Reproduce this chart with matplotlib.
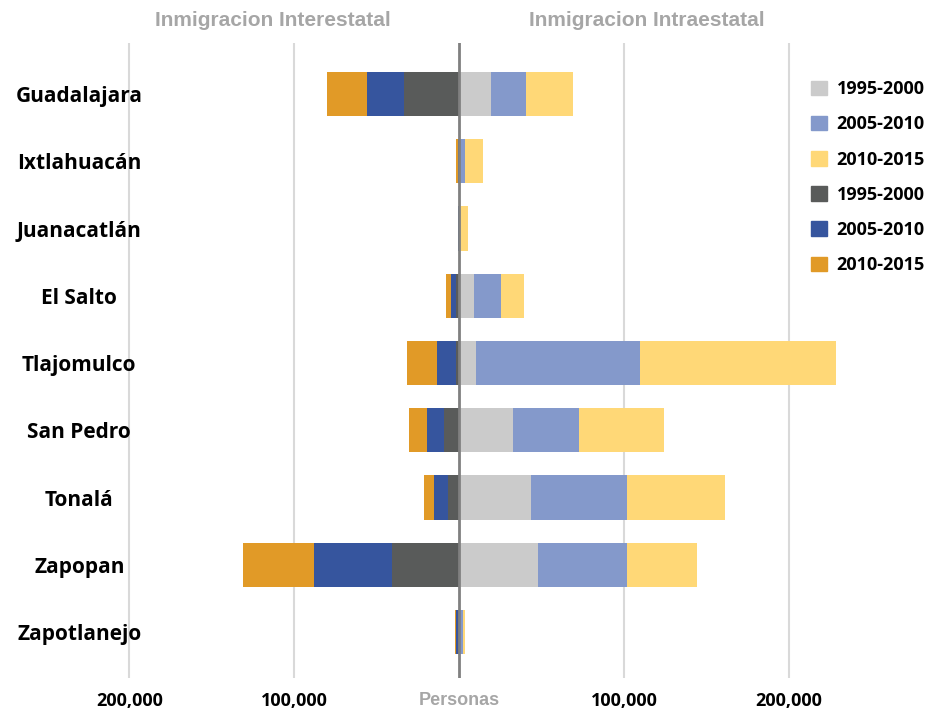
import numpy as np
import matplotlib.pyplot as plt
from matplotlib.patches import Patch

# municipios del area metropolitana
municipios = ['Guadalajara', 'Ixtlahuacán', 'Juanacatlán', 'El Salto', 'Tlajomulco',
              'San Pedro', 'Tonalá', 'Zapopan', 'Zapotlanejo']

# inmigracion intraestatal (lado derecho)
intra_1995 = [19400, 500, 200, 9100, 10500, 32700, 43600, 47900, 500]
intra_2005 = [21200, 2800, 300, 16400, 99200, 40000, 58200, 53900, 1800]
intra_2010 = [28500, 11300, 4800, 13700, 118800, 51500, 59400, 42400, 1300]

# inmigracion interestatal (lado izquierdo)
inter_1995 = [33300, 300, 200, 2200, 1800, 8900, 6500, 40400, 600]
inter_2005 = [22400, 300, 200, 2600, 11500, 10300, 8700, 47300, 1000]
inter_2010 = [24200, 1000, 300, 3200, 18600, 10900, 5900, 43600, 1000]

periodos = ['1995-2000', '2005-2010', '2010-2015']
tick_vals = [-200000, -100000, 0, 100000, 200000]
tick_labels = ['200,000', '100,000', 'Personas', '100,000', '200,000']

col_intra = ['#CBCBCB', '#8499CB', '#FFD877']
col_inter = ['#595B5A', '#36559E', '#E19A27']

plt.rcParams['font.family'] = ['Open Sans', 'DejaVu Sans']

fig = plt.figure(figsize=(9.39, 7.12), dpi=100)
ax = fig.add_axes([121/939, 1 - 678/712, (855 - 121)/939, (678 - 43)/712])

y = np.arange(len(municipios))
h = 0.66

##barras derecha
left = np.zeros(len(municipios))
for vals, c in zip([intra_1995, intra_2005, intra_2010], col_intra):
    ax.barh(y, vals, height=h, left=left, color=c, edgecolor='none', zorder=2)
    left = left + np.array(vals)

##barras izquierda (negativas)
left = np.zeros(len(municipios))
for vals, c in zip([inter_1995, inter_2005, inter_2010], col_inter):
    ax.barh(y, -np.array(vals), height=h, left=left, color=c, edgecolor='none', zorder=2)
    left = left - np.array(vals)

ax.set_xlim(-205000, 240000)
ax.set_ylim(8 + 0.683, -0.758)

# lineas guia
for v in [-200000, -100000, 100000, 200000]:
    ax.axvline(v, color='#D9D9D9', lw=1.5, zorder=1)
ax.axvline(0, color='#808080', lw=2, zorder=3)

for s in ax.spines.values():
    s.set_visible(False)

ax.set_xticks(tick_vals)
ax.set_xticklabels(tick_labels, fontsize=13, fontweight='bold')
lbl = ax.get_xticklabels()[2]
lbl.set_color('#A6A6A6')
lbl.set_family(['Liberation Sans', 'DejaVu Sans'])
ax.tick_params(axis='x', length=0, pad=10)

ax.set_yticks(y)
ax.set_yticklabels(municipios, fontsize=15, fontweight='bold', ha='center')
ax.tick_params(axis='y', length=0, pad=30)

# titulos de cada lado
fig.text(273/939, 1 - 20/712, 'Inmigracion Interestatal', ha='center', va='center',
         fontsize=15, fontweight='bold', color='#A6A6A6',
         family=['Liberation Sans', 'DejaVu Sans'])
fig.text(647/939, 1 - 20/712, 'Inmigracion Intraestatal', ha='center', va='center',
         fontsize=15, fontweight='bold', color='#A6A6A6',
         family=['Liberation Sans', 'DejaVu Sans'])

# leyenda
handles = [Patch(color=c) for c in col_intra + col_inter]
labels = periodos + periodos
fig.legend(handles, labels, loc='upper left', bbox_to_anchor=(795/939, 1 - 64/712),
           frameon=False, prop={'weight': 'bold', 'size': 13},
           handlelength=0.85, handleheight=0.85, handletextpad=0.55, labelspacing=0.95)

plt.savefig('out.png', dpi=100)
